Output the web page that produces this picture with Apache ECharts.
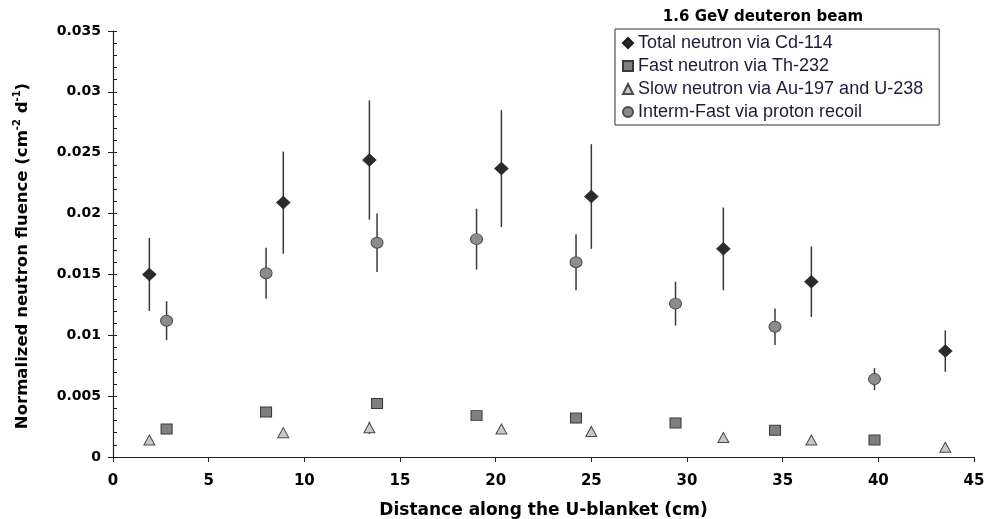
<!DOCTYPE html>
<html>
<head>
<meta charset="utf-8">
<script src="https://cdn.jsdelivr.net/npm/echarts@6/dist/echarts.min.js"></script>
<style>
  html, body { margin: 0; padding: 0; background: #fff; }
  #chart { width: 987px; height: 519px; }
</style>
</head>
<body>
<div id="chart"></div>
<script>
// values
var seriesNames = [
  'Total neutron via Cd-114',
  'Fast neutron via Th-232',
  'Slow neutron via Au-197 and U-238',
  'Interm-Fast via proton recoil'
]
var xTotal = [1.9, 8.9, 13.4, 20.3, 25.0, 31.9, 36.5, 43.5]
var yTotal = [0.0150, 0.0209, 0.0244, 0.0237, 0.0214, 0.0171, 0.0144, 0.0087]
var eTotal = [0.0030, 0.0042, 0.0049, 0.0048, 0.0043, 0.0034, 0.0029, 0.0017]

var xFast = [2.8, 8.0, 13.8, 19.0, 24.2, 29.4, 34.6, 39.8]
var yFast = [0.0023, 0.0037, 0.0044, 0.0034, 0.0032, 0.0028, 0.0022, 0.0014]
var eFast = [0, 0.0002, 0.0003, 0.0002, 0.0002, 0, 0, 0]

var xSlow = [1.9, 8.9, 13.4, 20.3, 25.0, 31.9, 36.5, 43.5]
var ySlow = [0.0014, 0.0020, 0.0024, 0.0023, 0.0021, 0.0016, 0.0014, 0.0008]
var eSlow = [0, 0.0002, 0.0005, 0.0003, 0.0002, 0, 0, 0]

var xInterm = [2.8, 8.0, 13.8, 19.0, 24.2, 29.4, 34.6, 39.8]
var yInterm = [0.0112, 0.0151, 0.0176, 0.0179, 0.0160, 0.0126, 0.0107, 0.0064]
var eInterm = [0.0016, 0.0021, 0.0024, 0.0025, 0.0023, 0.0018, 0.0015, 0.0009]

var xTicks = { min: 0, max: 45, interval: 5 }
var yTicks = { min: 0, max: 0.035, interval: 0.005 }

var chart = echarts.init(document.getElementById('chart'))

function pts(xs, ys, es) {
  return xs.map(function (x, i) { return [x, ys[i], es ? es[i] : 0] })
}

function errorBars(xs, ys, es) {
  return {
    type: 'custom',
    silent: true,
    z: 1,
    encode: { x: 0, y: 1 },
    data: pts(xs, ys, es),
    renderItem: function (params, api) {
      var x = api.value(0), y = api.value(1), e = api.value(2)
      if (!e) return null
      var a = api.coord([x, y + e])
      var b = api.coord([x, y - e])
      return {
        type: 'line',
        shape: { x1: a[0], y1: a[1], x2: b[0], y2: b[1] },
        style: { stroke: '#3a3a3a', lineWidth: 1.5 }
      }
    }
  }
}

var axisFont = 'DejaVu Sans'

var option = {
  animation: false,
  backgroundColor: '#fff',
  title: {
    text: '1.6 GeV deuteron beam',
    left: 763,
    top: 10,
    padding: 0,
    textAlign: 'center',
    textStyle: { fontFamily: axisFont, fontWeight: 'bold', fontSize: 15, color: '#000' }
  },
  legend: {
    data: seriesNames,
    orient: 'vertical',
    left: 615,
    top: 29,
    padding: [5, 16, 4, 7],
    itemGap: 5,
    itemWidth: 10,
    itemHeight: 10,
    borderColor: '#333',
    borderWidth: 1,
    textStyle: { fontFamily: 'Liberation Sans', fontSize: 18, lineHeight: 17, color: '#1c1c3a' }
  },
  grid: { left: 113, right: 13, top: 31, bottom: 62, outerBoundsMode: 'none' },
  xAxis: {
    type: 'value',
    min: xTicks.min,
    max: xTicks.max,
    interval: xTicks.interval,
    name: 'Distance along the U-blanket (cm)',
    nameLocation: 'middle',
    nameGap: 45,
    nameTextStyle: { fontFamily: axisFont, fontWeight: 'bold', fontSize: 17, color: '#000' },
    axisLine: { lineStyle: { color: '#222', width: 1.2 } },
    axisTick: { show: true, length: 5, lineStyle: { color: '#222' } },
    axisLabel: { margin: 17, fontFamily: axisFont, fontWeight: 'bold', fontSize: 15, color: '#000' },
    splitLine: { show: false }
  },
  yAxis: [
    {
      type: 'value',
      min: yTicks.min,
      max: yTicks.max,
      interval: yTicks.interval,
      name: '{a|Normalized neutron fluence (cm}{s|-2}{a| d}{s|-1}{a|)}',
      nameLocation: 'middle',
      nameGap: 80,
      nameTextStyle: {
        padding: [0, 24, 0, 0],
        rich: {
          a: { fontFamily: axisFont, fontWeight: 'bold', fontSize: 16.5, lineHeight: 21, color: '#000' },
          s: { fontFamily: axisFont, fontWeight: 'bold', fontSize: 10, lineHeight: 21, verticalAlign: 'top', color: '#000' }
        }
      },
      axisLine: { show: true, lineStyle: { color: '#222', width: 1.2 } },
      axisTick: { show: true, inside: true, length: 4, lineStyle: { color: '#222' } },
      minorTick: { show: true, splitNumber: 5, length: 4, lineStyle: { color: '#222' } },
      axisLabel: { margin: 12, fontFamily: axisFont, fontWeight: 'bold', fontSize: 14, color: '#000' },
      splitLine: { show: false }
    },
    {
      type: 'value',
      min: yTicks.min,
      max: yTicks.max,
      interval: yTicks.interval,
      position: 'left',
      axisLine: { show: false },
      axisTick: { show: true, length: 5, lineStyle: { color: '#222' } },
      axisLabel: { show: false },
      splitLine: { show: false }
    }
  ],
  series: [
    errorBars(xTotal, yTotal, eTotal),
    errorBars(xFast, yFast, eFast),
    errorBars(xSlow, ySlow, eSlow),
    errorBars(xInterm, yInterm, eInterm),
    {
      name: seriesNames[0],
      type: 'scatter',
      z: 3,
      symbol: 'diamond',
      symbolSize: [14, 13],
      itemStyle: { color: '#2b2b2b', borderColor: '#1a1a1a', borderWidth: 0.5, opacity: 1 },
      data: pts(xTotal, yTotal)
    },
    {
      name: seriesNames[1],
      type: 'scatter',
      z: 3,
      symbol: 'rect',
      symbolSize: [11, 10],
      itemStyle: { color: '#7f7f7f', borderColor: '#3a3a3a', borderWidth: 1, opacity: 1 },
      data: pts(xFast, yFast)
    },
    {
      name: seriesNames[2],
      type: 'scatter',
      z: 3,
      symbol: 'triangle',
      symbolSize: [11, 10],
      itemStyle: { color: '#c8c8c8', borderColor: '#4a4a4a', borderWidth: 1, opacity: 1 },
      data: pts(xSlow, ySlow)
    },
    {
      name: seriesNames[3],
      type: 'scatter',
      z: 3,
      symbol: 'circle',
      symbolSize: [12, 11],
      itemStyle: { color: '#8c8c8c', borderColor: '#4a4a4a', borderWidth: 1, opacity: 1 },
      data: pts(xInterm, yInterm)
    }
  ]
}

chart.setOption(option)
</script>
</body>
</html>
